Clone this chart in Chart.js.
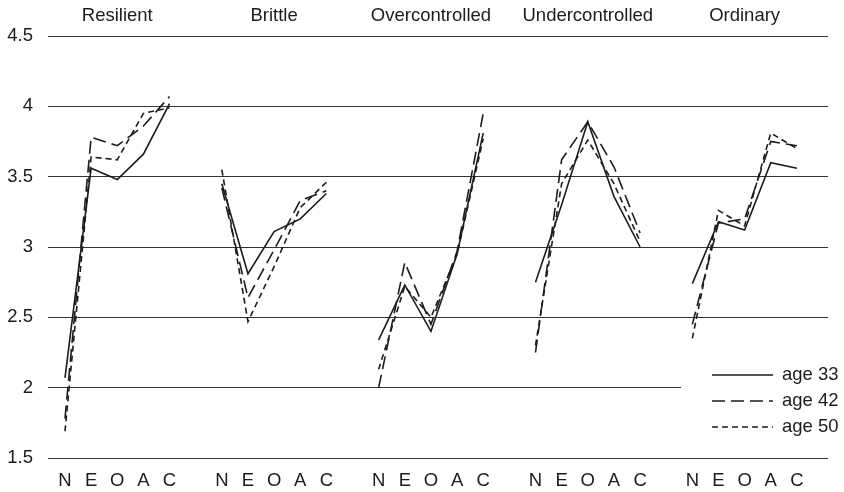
<!DOCTYPE html>
<html>
<head>
<meta charset="utf-8">
<script src="https://cdn.jsdelivr.net/npm/chart.js@4"></script>
<style>
  body { margin: 0; background: #fff; }
  #wrap { width: 844px; height: 492px; position: relative; }
</style>
</head>
<body>
<div id="wrap"><canvas id="myChart"></canvas></div>
<script>
const groups = ['Resilient', 'Brittle', 'Overcontrolled', 'Undercontrolled', 'Ordinary'];
const traits = ['N', 'E', 'O', 'A', 'C'];
const yTicks = [1.5, 2, 2.5, 3, 3.5, 4, 4.5];

// values per group, N E O A C
const age33 = [
  2.07, 3.56, 3.48, 3.66, 4.02,
  3.45, 2.81, 3.11, 3.20, 3.38,
  2.34, 2.73, 2.40, 2.95, 3.81,
  2.75, 3.30, 3.89, 3.36, 3.00,
  2.74, 3.18, 3.12, 3.60, 3.56
];
const age42 = [
  1.78, 3.78, 3.72, 3.86, 4.07,
  3.42, 2.64, 2.98, 3.33, 3.40,
  2.00, 2.89, 2.45, 2.97, 3.95,
  2.25, 3.62, 3.89, 3.57, 3.10,
  2.45, 3.17, 3.20, 3.75, 3.72
];
const age50 = [
  1.69, 3.64, 3.62, 3.95, 3.99,
  3.55, 2.47, 2.86, 3.28, 3.46,
  2.13, 2.72, 2.50, 2.95, 3.77,
  2.30, 3.45, 3.76, 3.45, 3.04,
  2.35, 3.26, 3.15, 3.81, 3.70
];

const slot = traits.length + 1; // one empty slot between groups

// category labels along x, with a blank between groups
const xLabels = [];
groups.forEach((g, gi) => {
  traits.forEach(t => xLabels.push(t));
  if (gi < groups.length - 1) xLabels.push('');
});

function toPoints(vals) {
  const pts = [];
  groups.forEach((g, gi) => {
    traits.forEach((t, ti) => pts.push({ x: gi * slot + ti, y: vals[gi * traits.length + ti] }));
    pts.push({ x: gi * slot + traits.length, y: null });
  });
  return pts;
}

const ink = '#1c1c1c';
const font = { family: '"Liberation Sans", Arial, sans-serif', size: 18.5 };

const series = [
  { label: 'age 33', values: age33, dash: [] },
  { label: 'age 42', values: age42, dash: [13, 6] },
  { label: 'age 50', values: age50, dash: [6, 4] }
];

const extras = {
  id: 'extras',
  beforeDatasetsDraw(chart) {
    // clear the grid behind the legend
    const ctx = chart.ctx;
    ctx.save();
    ctx.fillStyle = '#fff';
    ctx.fillRect(681, 365, 170, 72);
    ctx.restore();
  },
  afterDraw(chart) {
    const ctx = chart.ctx;
    const xs = chart.scales.x;
    ctx.save();
    ctx.fillStyle = ink;
    ctx.font = font.size + 'px ' + font.family;
    ctx.textAlign = 'center';
    ctx.textBaseline = 'middle';
    groups.forEach((g, gi) => {
      ctx.fillText(g, xs.getPixelForValue(gi * slot + 2), 16);
    });

    // legend
    ctx.textAlign = 'left';
    series.forEach((s, i) => {
      const y = 375 + i * 26;
      ctx.strokeStyle = ink;
      ctx.lineWidth = 1.6;
      ctx.setLineDash(s.dash);
      ctx.beginPath();
      ctx.moveTo(712, y);
      ctx.lineTo(773, y);
      ctx.stroke();
      ctx.setLineDash([]);
      ctx.fillText(s.label, 782, y);
    });
    ctx.restore();
  }
};

new Chart(document.getElementById('myChart'), {
  type: 'line',
  data: {
    datasets: series.map(s => ({
      label: s.label,
      data: toPoints(s.values),
      borderColor: ink,
      borderWidth: 1.6,
      borderDash: s.dash,
      pointRadius: 0,
      tension: 0,
      spanGaps: false
    }))
  },
  options: {
    responsive: true,
    maintainAspectRatio: false,
    animation: false,
    layout: { padding: { top: 36, right: 16, left: 0, bottom: 0 } },
    plugins: { legend: { display: false }, tooltip: { enabled: false } },
    scales: {
      x: {
        type: 'linear',
        min: -0.65,
        max: xLabels.length - 1 + 1.19,
        grid: { display: false, drawTicks: false },
        border: { display: false },
        afterBuildTicks(scale) {
          scale.ticks = xLabels.map((l, i) => ({ value: i }));
        },
        afterFit(scale) { scale.height = 34; },
        ticks: {
          autoSkip: false,
          maxRotation: 0,
          padding: 12,
          color: ink,
          font: font,
          callback: (v) => xLabels[v] || ''
        }
      },
      y: {
        min: 1.5,
        max: 4.5,
        afterBuildTicks(scale) {
          scale.ticks = yTicks.map(v => ({ value: v }));
        },
        afterFit(scale) { scale.width = 48; },
        grid: { color: '#333', lineWidth: 1, drawTicks: false },
        border: { display: false },
        ticks: {
          padding: 15,
          color: ink,
          font: font,
          callback: (v) => String(v)
        }
      }
    }
  },
  plugins: [extras]
});
</script>
</body>
</html>
